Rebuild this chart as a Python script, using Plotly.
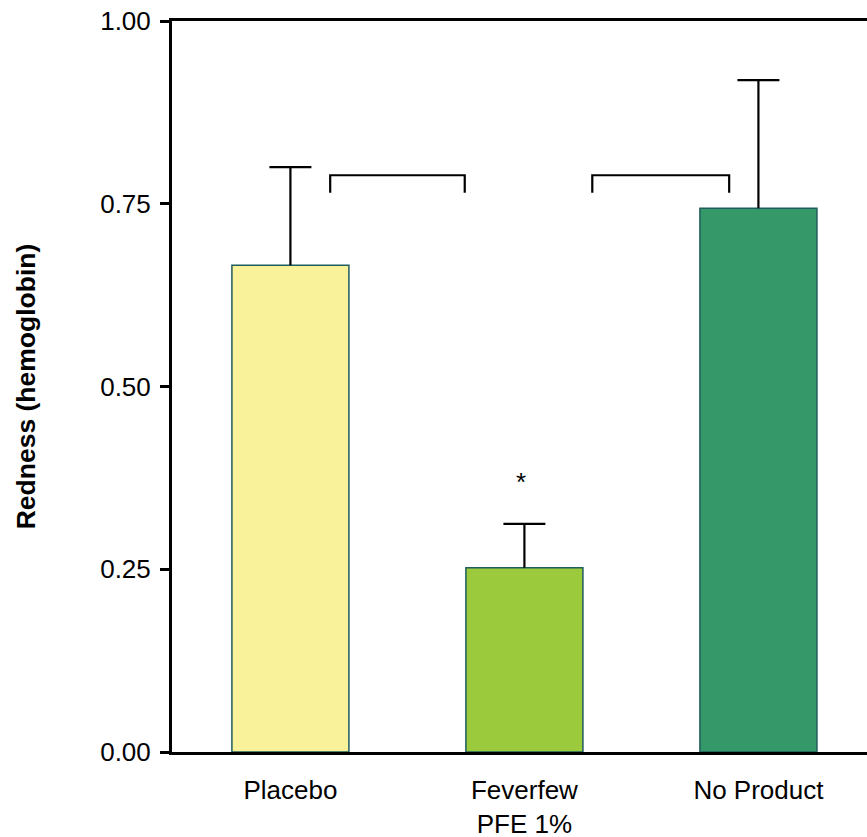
import plotly.graph_objects as go

categories = ["Placebo", "Feverfew<br>PFE 1%", "No Product"]
redness = [0.666, 0.252, 0.744]
sem = [0.134, 0.060, 0.175]
bar_colors = ["#F9F29B", "#9BCA3C", "#349868"]
y_ticks = [0.0, 0.25, 0.50, 0.75, 1.00]
bracket_level = 0.789
bracket_drop = 0.024
significance_mark = "*"

FONT = "Liberation Sans, Arial, Helvetica, sans-serif"
xpos = list(range(len(categories)))

fig = go.Figure()
fig.add_trace(go.Bar(
    x=xpos,
    y=redness,
    width=0.5,
    marker=dict(color=bar_colors, line=dict(color="#1F5C5C", width=1.5)),
    showlegend=False,
))
# error whiskers (upper only, no cap at bar top)
fig.add_trace(go.Scatter(
    x=xpos,
    y=[v + e for v, e in zip(redness, sem)],
    mode="markers",
    marker=dict(symbol="line-ew-open", size=30, color="black",
                line=dict(color="black", width=2.2)),
    error_y=dict(type="data", symmetric=False, array=[0] * len(sem), arrayminus=sem,
                 color="black", thickness=2.2, width=0),
    showlegend=False, hoverinfo="skip",
))

# comparison brackets
for x0, x1 in [(0.17, 0.745), (1.29, 1.875)]:
    fig.add_shape(type="path",
                  path=f"M {x0},{bracket_level - bracket_drop} L {x0},{bracket_level} "
                       f"L {x1},{bracket_level} L {x1},{bracket_level - bracket_drop}",
                  line=dict(color="black", width=2.2), xref="x", yref="y")

fig.add_annotation(x=0.985, y=redness[1] + sem[1] + 0.057, text=significance_mark,
                   showarrow=False, font=dict(size=26, color="black", family=FONT),
                   xref="x", yref="y")

fig.update_layout(
    width=867, height=837,
    margin=dict(l=172, r=0, t=21, b=85),
    plot_bgcolor="white", paper_bgcolor="white",
    font=dict(family=FONT, size=26, color="black"),
)
fig.update_xaxes(
    range=[-0.506, 2.464],
    tickmode="array", tickvals=xpos, ticktext=categories,
    showline=True, linecolor="black", linewidth=3, mirror=True,
    ticks="", showgrid=False, zeroline=False,
    ticklabelstandoff=13, automargin=False, ticklabeloverflow="allow",
    tickfont=dict(size=26, family=FONT, color="black"),
)
fig.update_yaxes(
    range=[0, 1],
    tickmode="array", tickvals=y_ticks, ticktext=[f"{v:.2f}" for v in y_ticks],
    showline=True, linecolor="black", linewidth=3,
    ticks="outside", ticklen=9, tickwidth=2.5, tickcolor="black",
    ticklabelstandoff=4, automargin=False, ticklabeloverflow="allow",
    showgrid=False, zeroline=False,
    tickfont=dict(size=26, family=FONT, color="black"),
    title=dict(text="<b>Redness (hemoglobin)</b>", standoff=57,
               font=dict(size=26.5, family=FONT, color="black")),
)

fig.write_html("out.html", config={"displayModeBar": False},
               post_script="document.body.style.margin='0';")
